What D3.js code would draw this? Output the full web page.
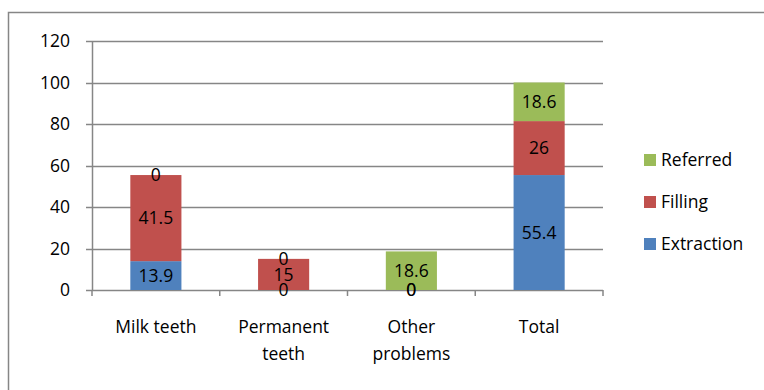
<!DOCTYPE html>
<html>
<head>
<meta charset="utf-8">
<script src="https://cdn.jsdelivr.net/npm/d3@7"></script>
<style>
  body { margin: 0; background: #fff; }
  text { font-family: "Open Sans", Lato, sans-serif; fill: #000; }
</style>
</head>
<body>
<div id="chart"></div>
<script>
// data
var categories = [["Milk teeth"], ["Permanent", "teeth"], ["Other", "problems"], ["Total"]];
var seriesNames = ["Extraction", "Filling", "Referred"];
var extraction = [13.9, 0, 0, 55.4];
var filling = [41.5, 15, 0, 26];
var referred = [0, 0, 18.6, 18.6];
var yTicks = [0, 20, 40, 60, 80, 100, 120];
var colors = ["#4F81BD", "#C0504D", "#9BBB59"];

var width = 764, height = 390;
var margin = {top: 41, left: 92, right: 161, bottom: 100};
var fontSize = "17.5px";

var svg = d3.select("#chart").append("svg")
    .attr("width", width)
    .attr("height", height);

// outer chart border (cut off at right / bottom)
svg.append("rect")
    .attr("x", 8.5).attr("y", 12.5)
    .attr("width", 800).attr("height", 400)
    .attr("fill", "none")
    .attr("stroke", "#868686")
    .attr("stroke-width", 1.5);

var x = d3.scaleBand()
    .domain(d3.range(categories.length))
    .range([margin.left, width - margin.right])
    .paddingInner(0.6).paddingOuter(0.3);

var y = d3.scaleLinear()
    .domain([0, 120])
    .range([height - margin.bottom, margin.top]);

// gridlines
svg.append("g").selectAll("line")
    .data(yTicks).enter().append("line")
    .attr("x1", margin.left - 6)
    .attr("x2", width - margin.right)
    .attr("y1", function(d) { return Math.round(y(d)) + 0.5; })
    .attr("y2", function(d) { return Math.round(y(d)) + 0.5; })
    .attr("stroke", "#868686")
    .attr("stroke-width", 1.5);

// y axis
svg.append("line")
    .attr("x1", margin.left + 0.5).attr("x2", margin.left + 0.5)
    .attr("y1", y(120)).attr("y2", y(0))
    .attr("stroke", "#868686").attr("stroke-width", 1.5);

svg.append("g").selectAll("text")
    .data(yTicks).enter().append("text")
    .attr("x", margin.left - 22)
    .attr("y", function(d) { return y(d); })
    .attr("dy", "0.35em")
    .attr("text-anchor", "end")
    .style("font-size", fontSize)
    .text(function(d) { return d; });

// x axis tick marks at band boundaries
var x0 = margin.left;
svg.append("g").selectAll("line")
    .data(d3.range(categories.length + 1)).enter().append("line")
    .attr("x1", function(i) { return x0 + i * (width - margin.right - margin.left) / categories.length; })
    .attr("x2", function(i) { return x0 + i * (width - margin.right - margin.left) / categories.length; })
    .attr("y1", y(0)).attr("y2", y(0) + 6)
    .attr("stroke", "#868686").attr("stroke-width", 1.5);

// stacked data
var rows = categories.map(function(c, i) {
    return {i: i, Extraction: extraction[i], Filling: filling[i], Referred: referred[i]};
});
var stacked = d3.stack().keys(seriesNames)(rows);

var layers = svg.append("g").selectAll("g")
    .data(stacked).enter().append("g")
    .attr("fill", function(d, k) { return colors[k]; });

layers.selectAll("rect")
    .data(function(d) { return d; }).enter().append("rect")
    .attr("x", function(d) { return x(d.data.i); })
    .attr("width", x.bandwidth())
    .attr("y", function(d) { return y(d[1]); })
    .attr("height", function(d) { return y(d[0]) - y(d[1]); });

// data labels
stacked.forEach(function(layer) {
    svg.append("g").selectAll("text")
        .data(layer).enter().append("text")
        .attr("x", function(d) { return x(d.data.i) + x.bandwidth() / 2; })
        .attr("y", function(d) { return (y(d[0]) + y(d[1])) / 2; })
        .attr("dy", "0.35em")
        .attr("text-anchor", "middle")
        .style("font-size", fontSize)
        .text(function(d) { return d.data[layer.key]; });
});

// category labels
svg.append("g").selectAll("text")
    .data(categories).enter().append("text")
    .attr("x", function(d, i) { return x(i) + x.bandwidth() / 2; })
    .attr("y", y(0) + 43)
    .attr("text-anchor", "middle")
    .style("font-size", fontSize)
    .each(function(d) {
        var t = d3.select(this);
        d.forEach(function(line, j) {
            t.append("tspan")
                .attr("x", t.attr("x"))
                .attr("dy", j === 0 ? 0 : 27)
                .text(line);
        });
    });

// legend
var legendItems = ["Referred", "Filling", "Extraction"];
var legend = svg.append("g").selectAll("g")
    .data(legendItems).enter().append("g")
    .attr("transform", function(d, i) { return "translate(644," + (160 + i * 42) + ")"; });

legend.append("rect")
    .attr("x", 0).attr("y", -6)
    .attr("width", 12).attr("height", 12)
    .attr("fill", function(d) { return colors[seriesNames.indexOf(d)]; });

legend.append("text")
    .attr("x", 17)
    .attr("dy", "0.35em")
    .style("font-size", fontSize)
    .text(function(d) { return d; });
</script>
</body>
</html>
